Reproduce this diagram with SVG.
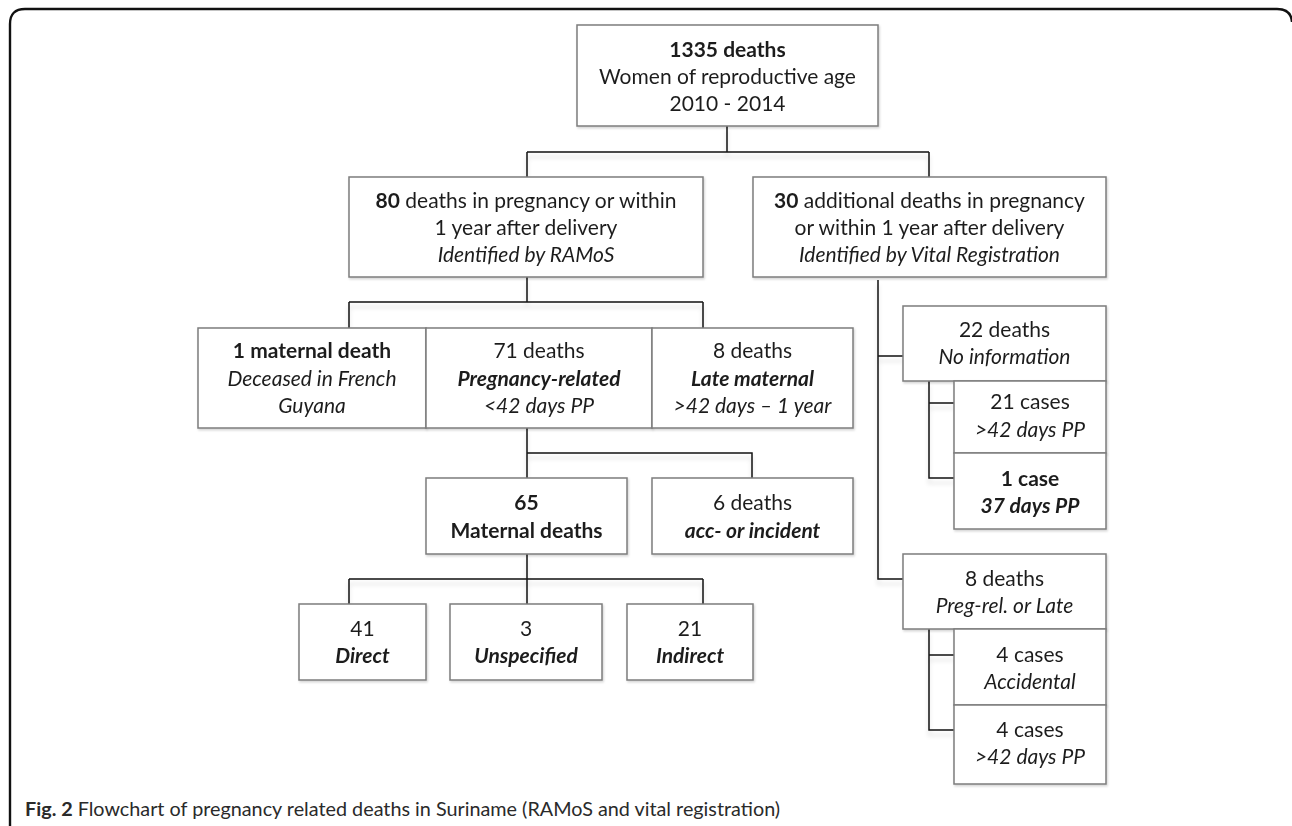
<svg xmlns="http://www.w3.org/2000/svg" width="1292" height="826" viewBox="0 0 1292 826">
<style>
text{font-family:Lato,"Open Sans","Liberation Sans",sans-serif;font-size:21px;fill:#1e1e1e;text-anchor:middle}
.b{font-weight:bold}
.i{font-style:italic}
.bi{font-weight:bold;font-style:italic}
.box{fill:#fff;stroke:#7d7d7d;stroke-width:1.5}
.con{fill:none;stroke:#141414;stroke-width:1.5}
.cap{text-anchor:start;font-size:19.8px;fill:#2a2a2a}
</style>
<defs>
<filter id="sh" x="-10%" y="-10%" width="120%" height="140%">
<feDropShadow dx="0" dy="5" stdDeviation="2" flood-color="#000" flood-opacity="0.14"/>
</filter>
<filter id="bs" x="-5%" y="-5%" width="110%" height="120%">
<feDropShadow dx="1" dy="1.5" stdDeviation="0.8" flood-color="#000" flood-opacity="0.18"/>
</filter>
</defs>
<rect width="1292" height="826" fill="#fff"/>
<path d="M10 826 V24 Q10 9 25 9 H1277 Q1291 9 1292 22" fill="none" stroke="#111" stroke-width="2.4"/>

<g id="connectors" class="con" filter="url(#sh)">
<path d="M727 126 V152 M527 152 H929 M527 152 V177 M929 152 V177"/>
<path d="M527 277 V302 M349 302 H703 M349 302 V328 M703 302 V328"/>
<path d="M527 428 V478 M527 453 H752 V478"/>
<path d="M527 554 V604 M349 579 H703 M349 579 V604 M703 579 V604"/>
<path d="M878 280 V579 H903 M878 356 H903"/>
<path d="M929 381 V478 H954 M929 403 H954"/>
<path d="M929 629 V730 H954 M929 655 H954"/>
</g>

<g id="n1335" filter="url(#bs)">
<rect class="box" x="577" y="25" width="301" height="101"/>
<text x="727.5" y="57" class="b">1335 deaths</text>
<text x="727.5" y="84">Women of reproductive age</text>
<text x="727.5" y="111">2010 - 2014</text>
</g>

<g id="n80" filter="url(#bs)">
<rect class="box" x="349" y="177" width="354" height="100"/>
<text x="526" y="208"><tspan class="b">80</tspan> deaths in pregnancy or within</text>
<text x="526" y="235">1 year after delivery</text>
<text x="526" y="262" class="i">Identified by RAMoS</text>
</g>

<g id="n30" filter="url(#bs)">
<rect class="box" x="753" y="177" width="353" height="100"/>
<text x="929.5" y="208"><tspan class="b">30</tspan> additional deaths in pregnancy</text>
<text x="929.5" y="235">or within 1 year after delivery</text>
<text x="929.5" y="262" class="i">Identified by Vital Registration</text>
</g>

<g id="n1maternal" filter="url(#bs)">
<rect class="box" x="198" y="328" width="228" height="100"/>
<text x="312" y="358" class="b">1 maternal death</text>
<text x="312" y="386" class="i">Deceased in French</text>
<text x="312" y="413" class="i">Guyana</text>
</g>

<g id="n71" filter="url(#bs)">
<rect class="box" x="426" y="328" width="226" height="100"/>
<text x="539" y="358">71 deaths</text>
<text x="539" y="386" class="bi">Pregnancy-related</text>
<text x="539" y="413" class="i">&lt;42 days PP</text>
</g>

<g id="n8late" filter="url(#bs)">
<rect class="box" x="652" y="328" width="201" height="100"/>
<text x="752.5" y="358">8 deaths</text>
<text x="752.5" y="386" class="bi">Late maternal</text>
<text x="752.5" y="413" class="i">&gt;42 days – 1 year</text>
</g>

<g id="n65" filter="url(#bs)">
<rect class="box" x="426" y="478" width="201" height="76"/>
<text x="526.5" y="510" class="b">65</text>
<text x="526.5" y="538" class="b">Maternal deaths</text>
</g>

<g id="n6" filter="url(#bs)">
<rect class="box" x="652" y="478" width="201" height="76"/>
<text x="752.5" y="510">6 deaths</text>
<text x="752.5" y="538" class="bi">acc- or incident</text>
</g>

<g id="n41" filter="url(#bs)">
<rect class="box" x="299" y="604" width="127" height="76"/>
<text x="362.5" y="636">41</text>
<text x="362.5" y="663" class="bi">Direct</text>
</g>

<g id="n3" filter="url(#bs)">
<rect class="box" x="450" y="604" width="152" height="76"/>
<text x="526" y="636">3</text>
<text x="526" y="663" class="bi">Unspecified</text>
</g>

<g id="n21" filter="url(#bs)">
<rect class="box" x="627" y="604" width="126" height="76"/>
<text x="690" y="636">21</text>
<text x="690" y="663" class="bi">Indirect</text>
</g>

<g id="n22" filter="url(#bs)">
<rect class="box" x="903" y="306" width="203" height="75"/>
<text x="1004.5" y="337">22 deaths</text>
<text x="1004.5" y="364" class="i">No information</text>
</g>

<g id="n21cases" filter="url(#bs)">
<rect class="box" x="954" y="381" width="152" height="72"/>
<text x="1030" y="409">21 cases</text>
<text x="1030" y="437" class="i">&gt;42 days PP</text>
</g>

<g id="n1case" filter="url(#bs)">
<rect class="box" x="954" y="453" width="152" height="76"/>
<text x="1030" y="486" class="b">1 case</text>
<text x="1030" y="513" class="bi">37 days PP</text>
</g>

<g id="n8preg" filter="url(#bs)">
<rect class="box" x="903" y="554" width="203" height="75"/>
<text x="1004.5" y="586">8 deaths</text>
<text x="1004.5" y="613" class="i">Preg-rel. or Late</text>
</g>

<g id="n4acc" filter="url(#bs)">
<rect class="box" x="954" y="629" width="152" height="76"/>
<text x="1030" y="662">4 cases</text>
<text x="1030" y="689" class="i">Accidental</text>
</g>

<g id="n4late" filter="url(#bs)">
<rect class="box" x="954" y="705" width="152" height="79"/>
<text x="1030" y="737">4 cases</text>
<text x="1030" y="764" class="i">&gt;42 days PP</text>
</g>

<text x="25" y="816" class="cap"><tspan font-weight="bold">Fig. 2</tspan> Flowchart of pregnancy related deaths in Suriname (RAMoS and vital registration)</text>
</svg>
